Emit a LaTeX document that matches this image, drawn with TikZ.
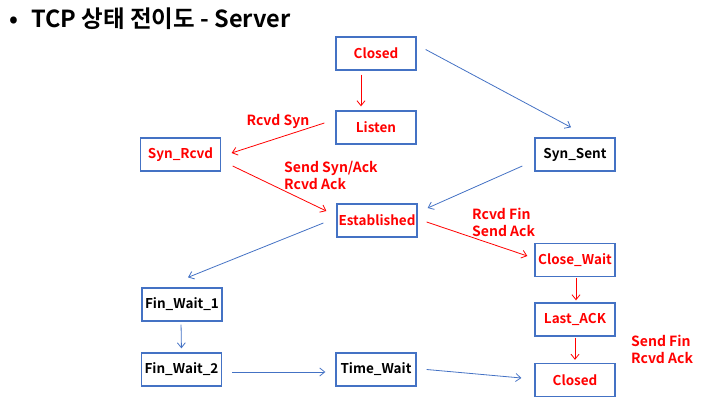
\documentclass[tikz,border=0pt]{standalone}
\usepackage{fontspec}
\setmainfont{Noto Sans CJK KR}[BoldFont={Noto Sans CJK KR Bold}]
\usetikzlibrary{arrows.meta}
\begin{document}
\begin{tikzpicture}[x=1pt, y=-1pt,
    state/.style={draw=boxblue, line width=1.3pt, minimum width=80pt, minimum height=33pt, inner sep=0pt, font=\fontsize{13.5}{17}\selectfont\bfseries},
    redarr/.style={draw=red, line width=0.8pt, -{Straight Barb[length=5pt,width=8pt]}},
    bluearr/.style={draw=boxblue, line width=0.8pt, -{Straight Barb[length=5pt,width=8pt]}},
    lbl/.style={text=red, align=left, inner sep=0pt, font=\fontsize{14}{17}\selectfont\bfseries}]
            \definecolor{boxblue}{RGB}{68,114,196}
            \useasboundingbox (0,0) rectangle (711,406);
            \node[anchor=base west, font=\fontsize{23.5}{28}\selectfont\bfseries] (title) at (6,28) {\textbullet\hspace{13pt}TCP 상태 전이도 - Server};
            \node[state, text=red] (closedA) at (376,53.5) {Closed};
            \node[state, text=red] (listen) at (376,127.5) {Listen};
            \node[state, text=red] (synrcvd) at (180.5,154.5) {Syn\_Rcvd};
            \node[state] (synsent) at (575,154.5) {Syn\_Sent};
            \node[state, text=red] (estab) at (377,220.5) {Established};
            \node[state, text=red] (closewait) at (575,260) {Close\_Wait};
            \node[state, text=red] (lastack) at (575,319.5) {Last\_ACK};
            \node[state, text=red] (closedB) at (575,380) {Closed};
            \node[state] (finwaita) at (182,304.5) {Fin\_Wait\_1};
            \node[state] (finwaitb) at (181.5,369.5) {Fin\_Wait\_2};
            \node[state] (timewait) at (376,369.5) {Time\_Wait};
            \node[lbl] (rcvdsyn) at (278,121) {Rcvd Syn};
            \node[lbl, anchor=west] (sendsynack) at (284,175) {Send Syn/Ack\\Rcvd Ack};
            \node[lbl, anchor=west] (rcvdfin) at (472,222) {Rcvd Fin\\Send Ack};
            \node[lbl, anchor=west] (sendfin) at (631,349) {Send Fin\\Rcvd Ack};
            \draw[redarr, shorten <=4pt, shorten >=4pt] ([xshift=-15pt]closedA.south) -- ([xshift=-15pt]listen.north);
            \draw[bluearr] ([xshift=9pt,yshift=4pt]closedA.east) -- ([xshift=-4pt,yshift=10pt]synsent.north);
            \draw[redarr] ([xshift=-11pt,yshift=4.5pt]listen.west) -- ([xshift=10.5pt,yshift=1.5pt]synrcvd.east);
            \draw[redarr] ([xshift=11.5pt,yshift=-11.5pt]synrcvd.east) -- ([xshift=-10pt,yshift=9.5pt]estab.west);
            \draw[bluearr] ([xshift=-12pt,yshift=-11.5pt]synsent.west) -- ([xshift=10pt,yshift=12.5pt]estab.east);
            \draw[redarr] ([xshift=9pt,yshift=-1.5pt]estab.east) -- ([xshift=-7pt,yshift=4pt]closewait.west);
            \draw[bluearr] ([xshift=-13pt,yshift=-2.5pt]estab.west) -- ([xshift=6pt,yshift=10pt]finwaita.north);
            \draw[redarr, shorten <=1pt, shorten >=2pt] ([xshift=1pt]closewait.south) -- ([xshift=1pt]lastack.north);
            \draw[redarr, shorten <=1pt, shorten >=3pt] (lastack.south) -- (closedB.north);
            \draw[bluearr, shorten <=3pt, shorten >=4pt] ([xshift=-1pt]finwaita.south) -- (finwaitb.north);
            \draw[bluearr] ([xshift=10pt,yshift=-2.5pt]finwaitb.east) -- ([xshift=-10pt,yshift=-2.5pt]timewait.west);
            \draw[bluearr] ([xshift=10pt]timewait.east) -- ([xshift=-13pt,yshift=2pt]closedB.west);
        \end{tikzpicture}
\end{document}
